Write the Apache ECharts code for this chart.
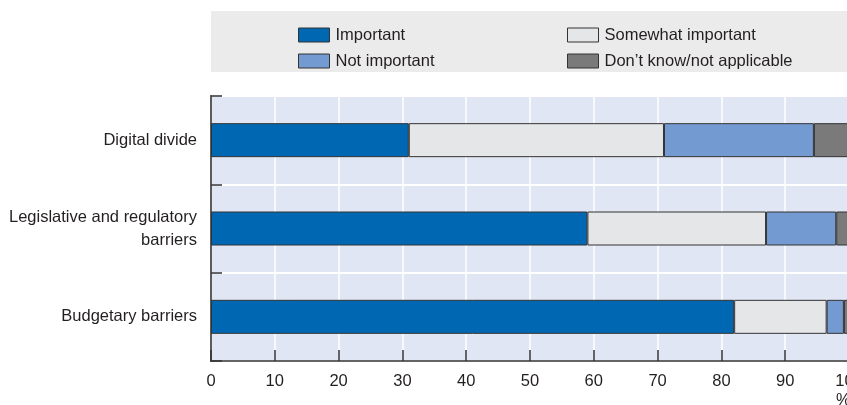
<!DOCTYPE html>
<html>
<head>
<meta charset="utf-8">
<script src="https://cdn.jsdelivr.net/npm/echarts@6/dist/echarts.min.js"></script>
<style>
  html, body { margin: 0; padding: 0; background: #ffffff; }
  #chart { width: 847px; height: 405px; }
</style>
</head>
<body>
<div id="chart"></div>
<script>
// Categories listed bottom to top (category y-axis starts at the bottom)
const categories = ['Budgetary barriers', 'Legislative and regulatory\nbarriers', 'Digital divide'];

// Share of respondents, %
const important         = [82, 59, 31];
const somewhatImportant = [14.5, 28, 40];
const notImportant      = [2.7, 11, 23.5];
const dontKnow          = [0.8, 2, 5.5];

const xTicks = [0, 10, 20, 30, 40, 50, 60, 70, 80, 90, 100];

const FONT = '"Liberation Sans", Arial, sans-serif';
const FS = 16.5;
const TEXT = '#231f20';
const EDGE = '#333333';

const colors = {
  important: '#0068b3',
  somewhat: '#e5e6e8',
  notImp: '#739bd1',
  dontKnow: '#7a7a7a'
};

function barSeries(name, data, color) {
  return {
    name: name,
    type: 'bar',
    stack: 'total',
    barWidth: 34,
    data: data,
    itemStyle: { color: color, borderColor: EDGE, borderWidth: 1 },
    emphasis: { disabled: true }
  };
}

const chart = echarts.init(document.getElementById('chart'), null, { renderer: 'canvas' });

const legendCommon = {
  orient: 'vertical',
  top: 20,
  itemWidth: 31,
  itemHeight: 14,
  itemGap: 6,
  icon: 'rect',
  selectedMode: false,
  itemStyle: { borderColor: EDGE, borderWidth: 1 },
  textStyle: { fontFamily: FONT, fontSize: FS, color: TEXT, lineHeight: 20, padding: [0, 0, 0, 1] }
};

chart.setOption({
  animation: false,
  color: [colors.important, colors.somewhat, colors.notImp, colors.dontKnow],
  graphic: [
    {
      type: 'rect',
      z: -1,
      shape: { x: 211, y: 11, width: 640, height: 61 },
      style: { fill: '#ebebeb' }
    },
    {
      type: 'text',
      left: 836,
      top: 392,
      style: { text: '%', fontFamily: FONT, fontSize: FS, fill: TEXT }
    }
  ],
  legend: [
    Object.assign({ left: 293, data: ['Important', 'Not important'] }, legendCommon),
    Object.assign({ left: 562, data: ['Somewhat important', 'Don\u2019t know/not applicable'] }, legendCommon)
  ],
  grid: {
    left: 211,
    top: 96,
    width: 638,
    height: 265,
    show: true,
    backgroundColor: '#e0e6f4',
    borderColor: EDGE,
    borderWidth: 1.5,
    containLabel: false,
    outerBoundsMode: 'none'
  },
  xAxis: {
    type: 'value',
    min: 0,
    max: 100,
    interval: 10,
    axisLine: { show: true, lineStyle: { color: EDGE, width: 1.5 } },
    axisTick: { show: true, inside: true, length: 11, lineStyle: { color: EDGE, width: 1.5 } },
    axisLabel: {
      fontFamily: FONT,
      fontSize: FS,
      color: TEXT,
      margin: 12,
      showMinLabel: true,
      showMaxLabel: true,
      hideOverlap: false,
      formatter: function (v) { return xTicks.indexOf(v) >= 0 ? String(v) : ''; }
    },
    splitLine: { show: true, lineStyle: { color: '#ffffff', width: 1.5 } }
  },
  yAxis: {
    type: 'category',
    data: categories,
    axisLine: { show: true, lineStyle: { color: EDGE, width: 1.5 } },
    axisTick: { show: true, inside: true, length: 11, lineStyle: { color: EDGE, width: 1.5 } },
    axisLabel: {
      fontFamily: FONT,
      fontSize: FS,
      color: TEXT,
      margin: 14,
      lineHeight: 23,
      align: 'right'
    },
    splitLine: { show: true, lineStyle: { color: '#ffffff', width: 2 } }
  },
  series: [
    barSeries('Important', important, colors.important),
    barSeries('Somewhat important', somewhatImportant, colors.somewhat),
    barSeries('Not important', notImportant, colors.notImp),
    barSeries('Don\u2019t know/not applicable', dontKnow, colors.dontKnow)
  ]
});
</script>
</body>
</html>
